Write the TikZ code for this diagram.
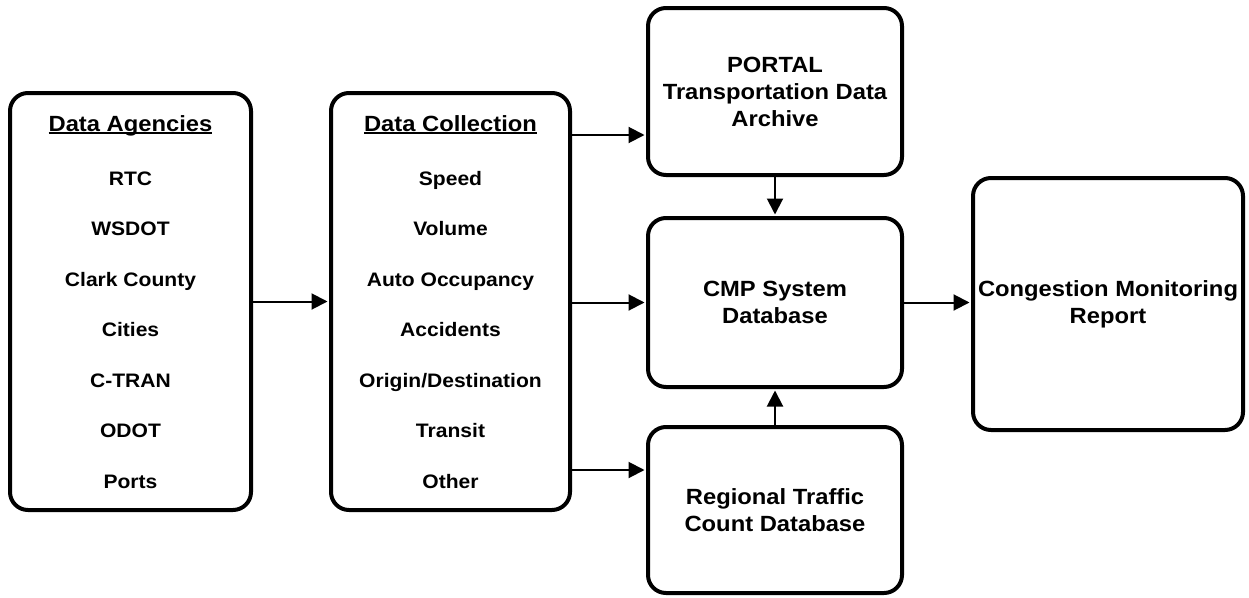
\documentclass[tikz,border=0pt]{standalone}
\usepackage{fontspec}
\setmainfont[FakeStretch=1.08]{Liberation Sans}
\usetikzlibrary{arrows.meta}
\newcommand{\headul}[1]{\setbox0=\hbox{#1}\rlap{\rule[-3.2pt]{\wd0}{1.8pt}}\box0}
\begin{document}
\begin{tikzpicture}[x=1pt,y=-1pt,shorten >=1.5pt]
        \tikzstyle{box}=[draw=black,line width=4pt,rounded corners=18pt,inner sep=0pt,align=center,font=\fontsize{22}{27}\selectfont\bfseries]
        \tikzstyle{item}=[anchor=base,inner sep=0pt,font=\fontsize{19.5}{23}\selectfont\bfseries]
        \tikzstyle{head}=[anchor=base,inner sep=0pt,font=\fontsize{22}{27}\selectfont\bfseries]
        \tikzstyle{link}=[draw,line width=2pt,-{Triangle[length=16pt,width=16pt]}]
        \useasboundingbox (0,0) rectangle (1249,597);
        % columns
        \node [box,minimum width=241pt,minimum height=417pt] (agen) at (130.5,301.5) {};
        \node [box,minimum width=239pt,minimum height=417pt] (coll) at (450.5,301.5) {};
        \node [head] (agenhead) at (130.5,131) {\headul{Data Agencies}};
        \node [head] (collhead) at (450.5,131) {\headul{Data Collection}};
        \foreach \t [count=\i from 0] in {RTC,WSDOT,Clark County,Cities,C-TRAN,ODOT,Ports}
          \node [item] (ag\i) at (130.5,{185+50.5*\i}) {\t};
        \foreach \t [count=\i from 0] in {Speed,Volume,Auto Occupancy,Accidents,Origin/Destination,Transit,Other}
          \node [item] (co\i) at (450.5,{185+50.5*\i}) {\t};
        % databases
        \node [box,minimum width=254pt,minimum height=167pt] (portal) at (775,91.5) {PORTAL\\Transportation Data\\Archive};
        \node [box,minimum width=254pt,minimum height=169pt] (cmp) at (775,302.5) {CMP System\\Database};
        \node [box,minimum width=254pt,minimum height=166pt] (rtcdb) at (775,510) {Regional Traffic\\Count Database};
        \node [box,minimum width=270pt,minimum height=252pt] (cmr) at (1108,304) {Congestion Monitoring\\Report};
        \coordinate (upper) at (0,135);
        \coordinate (lower) at (0,470);
        % arrows
        \path[link] (agen.east) -- (coll.west |- agen.east);
        \path[link] (upper -| coll.east) -- (upper -| portal.west);
        \path[link] (coll.east |- cmp.west) -- (cmp.west);
        \path[link] (lower -| coll.east) -- (lower -| rtcdb.west);
        \path[link] (portal.south) -- (cmp.north);
        \path[link] (rtcdb.north) -- (cmp.south);
        \path[link] (cmp.east) -- (cmp.east -| cmr.west);
\end{tikzpicture}
\end{document}
